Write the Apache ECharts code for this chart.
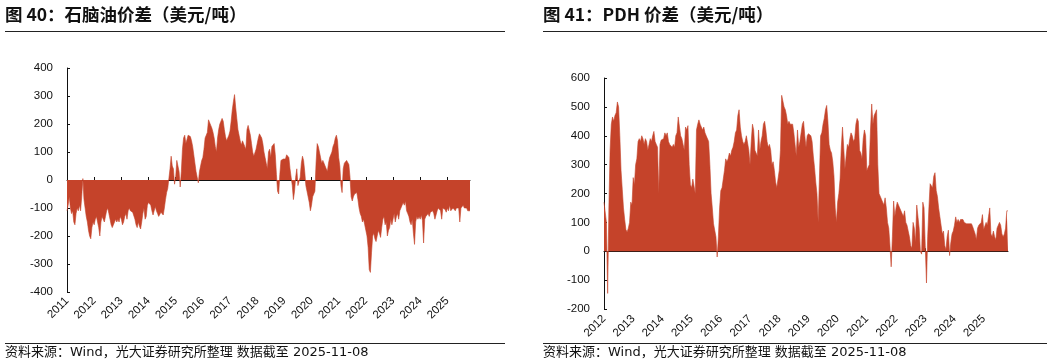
<!DOCTYPE html>
<html>
<head>
<meta charset="utf-8">
<script src="https://cdn.jsdelivr.net/npm/echarts@6/dist/echarts.min.js"></script>
<style>
html,body{margin:0;padding:0;background:#fff;}
#chart{width:1053px;height:364px;}
</style>
</head>
<body>
<div id="chart"></div>
<script>
// ---- Data (semi-monthly readings: 1st and 16th of each month) ----
const naphthaStartYear = 2011;
const naphthaSpread = [
  // 2011
  -110,-90,-60,-100,-120,-110,-150,-160,-120,-100,-110,-90,-110,-60,5,-70,-100,-130,-150,-180,-200,-210,-170,-150,
  // 2012
  -160,-140,-130,-150,-170,-200,-150,-130,-140,-150,-130,-110,-100,-120,-140,-160,-170,-165,-150,-140,-150,-140,-150,-130,
  // 2013
  -140,-160,-150,-130,-120,-140,-110,-100,-110,-105,-115,-120,-140,-160,-170,-150,-165,-175,-150,-120,-100,-140,-130,-90,
  // 2014
  -80,-75,-90,-110,-125,-120,-95,-110,-120,-130,-125,-115,-120,-125,-100,-70,-45,-30,5,40,85,50,40,-15,
  // 2015
  10,70,65,30,-25,30,110,150,160,130,145,160,165,155,140,120,90,60,30,10,-10,30,50,70,
  // 2016
  80,110,150,160,170,215,210,195,185,170,150,120,100,150,180,200,205,220,210,180,155,140,150,160,
  // 2017
  175,210,250,280,305,260,220,180,160,140,125,140,130,120,110,180,195,190,160,130,100,85,80,110,
  // 2018
  130,150,165,160,150,130,100,80,60,40,100,110,80,120,125,130,90,20,-40,-50,20,70,70,75,
  // 2019
  80,75,90,95,80,40,10,-20,-70,-40,10,40,-20,-25,10,60,85,70,30,-20,-40,-60,-80,-110,
  // 2020
  -90,-60,-50,-40,60,130,120,100,80,60,70,60,50,40,30,60,80,90,100,120,130,150,160,140,
  // 2021
  80,50,-20,-45,40,60,65,70,65,55,10,-60,-75,-60,-50,-55,-45,-70,-100,-120,-130,-150,-140,-160,
  // 2022
  -180,-200,-240,-320,-330,-260,-200,-190,-210,-220,-215,-180,-190,-205,-170,-140,-130,-160,-150,-200,-180,-170,-140,-160,
  // 2023
  -140,-120,-150,-130,-120,-140,-110,-100,-90,-80,-90,-75,-110,-120,-130,-150,-160,-140,-190,-230,-150,-130,-140,-130,
  // 2024
  -140,-125,-145,-225,-140,-130,-125,-120,-130,-115,-120,-110,-120,-140,-125,-110,-100,-105,-110,-140,-100,-95,-105,-115,
  // 2025
  -100,-110,-90,-110,-105,-100,-95,-110,-100,-95,-100,-150,-100,-105,-90,-100,-95,-100,-110,-105,-110
];

const pdhStartYear = 2012;
const pdhSpread = [
  // 2012
  170,175,100,-146,150,350,440,465,450,470,480,517,500,400,280,215,150,110,75,67,80,100,170,160,
  // 2013
  255,230,300,320,380,390,380,400,390,370,390,380,350,370,390,380,400,415,380,370,360,200,370,385,
  // 2014
  380,390,410,400,410,380,370,365,360,370,360,400,410,465,430,400,390,370,350,430,420,435,300,230,
  // 2015
  220,250,250,200,420,440,455,440,445,420,430,410,400,405,380,300,200,150,95,90,50,-20,50,150,
  // 2016
  210,220,250,280,320,310,320,340,330,350,360,380,410,420,470,490,430,400,380,370,380,400,395,350,
  // 2017
  300,380,440,420,350,340,330,420,350,380,400,440,450,420,380,360,370,350,300,310,280,240,220,250,
  // 2018
  280,350,540,520,500,490,470,440,450,440,445,440,410,370,330,420,360,380,410,440,450,400,360,400,
  // 2019
  407,410,400,380,330,290,240,200,100,250,400,410,440,460,490,505,450,370,350,340,310,260,150,100,
  // 2020
  170,200,250,360,430,430,286,330,370,360,390,410,400,380,390,440,460,450,350,340,320,390,420,400,
  // 2021
  280,290,300,420,510,440,470,480,490,300,200,205,180,170,160,185,150,100,80,20,-54,50,174,120,
  // 2022
  150,170,170,150,140,140,120,140,100,90,70,50,20,10,100,80,30,160,155,80,0,-10,170,150,
  // 2023
  20,-110,50,150,234,230,220,260,272,210,190,150,120,90,60,70,20,5,50,73,-15,30,60,70,
  // 2024
  90,119,100,110,100,110,105,110,100,105,95,90,95,90,95,85,80,60,40,80,90,85,100,127,
  // 2025
  75,80,100,90,120,150,60,50,70,50,40,80,90,100,90,60,50,60,80,140,140
];

const naphthaTitle = '图 40：石脑油价差（美元/吨）';
const pdhTitle = '图 41：PDH 价差（美元/吨）';
const sourceText = '资料来源：Wind，光大证券研究所整理 数据截至 2025-11-08';

// half-month category dates
function halfMonthDates(startYear, n) {
  const out = [];
  for (let i = 0; i < n; i++) {
    const y = startYear + Math.floor(i / 24);
    const m = Math.floor((i % 24) / 2) + 1;
    const d = (i % 2) ? 16 : 1;
    out.push(y + '-' + String(m).padStart(2, '0') + '-' + String(d).padStart(2, '0'));
  }
  return out;
}
const naphthaDates = halfMonthDates(naphthaStartYear, naphthaSpread.length);
const pdhDates = halfMonthDates(pdhStartYear, pdhSpread.length);

const isYearStart = (idx, val) => String(val).endsWith('-01-01');
const yearOf = v => String(v).slice(0, 4);

const RED = '#C5432A';
const AX = '#111';
const labelFont = { fontFamily: '"Liberation Sans", Arial, sans-serif', fontSize: 11.5, color: '#111' };

const chart = echarts.init(document.getElementById('chart'), null, { renderer: 'canvas' });

const option = {
  animation: false,
  backgroundColor: '#fff',
  grid: [
    { left: 67, top: 68, width: 403, height: 224, containLabel: false },
    { left: 604, top: 78, width: 404, height: 231, containLabel: false }
  ],
  xAxis: [
    { // left: axis line on zero, ticks only
      type: 'category', gridIndex: 0, data: naphthaDates, boundaryGap: false,
      axisLine: { onZero: true, lineStyle: { color: AX, width: 1 } },
      axisTick: { inside: true, length: 3, interval: isYearStart, lineStyle: { color: AX } },
      axisLabel: { show: false },
      splitLine: { show: false }
    },
    { // left: labels at bottom
      type: 'category', gridIndex: 0, data: naphthaDates, boundaryGap: false, position: 'bottom',
      axisLine: { show: false, onZero: false },
      axisTick: { show: false },
      axisLabel: Object.assign({ interval: isYearStart, formatter: yearOf, rotate: 45, margin: 7 }, labelFont),
      splitLine: { show: false }
    },
    { // right
      type: 'category', gridIndex: 1, data: pdhDates, boundaryGap: false,
      axisLine: { onZero: true, lineStyle: { color: AX, width: 1 } },
      axisTick: { inside: true, length: 3, interval: isYearStart, lineStyle: { color: AX } },
      axisLabel: Object.assign({ interval: isYearStart, formatter: yearOf, rotate: 45, margin: 8 }, labelFont),
      splitLine: { show: false }
    }
  ],
  yAxis: [
    {
      type: 'value', gridIndex: 0, min: -400, max: 400, interval: 100,
      axisLine: { show: true, lineStyle: { color: AX, width: 1 } },
      axisTick: { show: true, inside: true, length: 3, lineStyle: { color: AX } },
      axisLabel: Object.assign({ margin: 14 }, labelFont),
      splitLine: { show: false }
    },
    {
      type: 'value', gridIndex: 1, min: -200, max: 600, interval: 100,
      axisLine: { show: true, lineStyle: { color: AX, width: 1 } },
      axisTick: { show: true, inside: true, length: 3, lineStyle: { color: AX } },
      axisLabel: Object.assign({ margin: 14 }, labelFont),
      splitLine: { show: false }
    }
  ],
  series: [
    {
      name: '石脑油价差', type: 'line', xAxisIndex: 0, yAxisIndex: 0, data: naphthaSpread,
      symbol: 'none', lineStyle: { color: RED, width: 0.6 },
      areaStyle: { color: RED, opacity: 1 }, z: 1
    },
    {
      name: 'PDH价差', type: 'line', xAxisIndex: 2, yAxisIndex: 1, data: pdhSpread,
      symbol: 'none', lineStyle: { color: RED, width: 0.6 },
      areaStyle: { color: RED, opacity: 1 }, z: 1
    }
  ],
  graphic: [
    { type: 'text', left: 5, top: 6, style: { text: naphthaTitle, font: 'bold 17.5px "Noto Sans CJK SC", sans-serif', fill: '#111' } },
    { type: 'line', shape: { x1: 5, y1: 31.5, x2: 505, y2: 31.5 }, style: { stroke: '#222', lineWidth: 1 } },
    { type: 'text', left: 543, top: 6, style: { text: pdhTitle, font: 'bold 17.5px "Noto Sans CJK SC", sans-serif', fill: '#111' } },
    { type: 'line', shape: { x1: 543, y1: 31.5, x2: 1047, y2: 31.5 }, style: { stroke: '#222', lineWidth: 1 } },
    { type: 'line', shape: { x1: 5, y1: 343.5, x2: 505, y2: 343.5 }, style: { stroke: '#222', lineWidth: 1 } },
    { type: 'text', left: 5, top: 346, style: { text: sourceText, font: '13px "DejaVu Sans", "Noto Sans CJK SC", sans-serif', fill: '#111' } },
    { type: 'line', shape: { x1: 543, y1: 343.5, x2: 1047, y2: 343.5 }, style: { stroke: '#222', lineWidth: 1 } },
    { type: 'text', left: 543, top: 346, style: { text: sourceText, font: '13px "DejaVu Sans", "Noto Sans CJK SC", sans-serif', fill: '#111' } }
  ]
};
chart.setOption(option);
</script>
</body>
</html>
